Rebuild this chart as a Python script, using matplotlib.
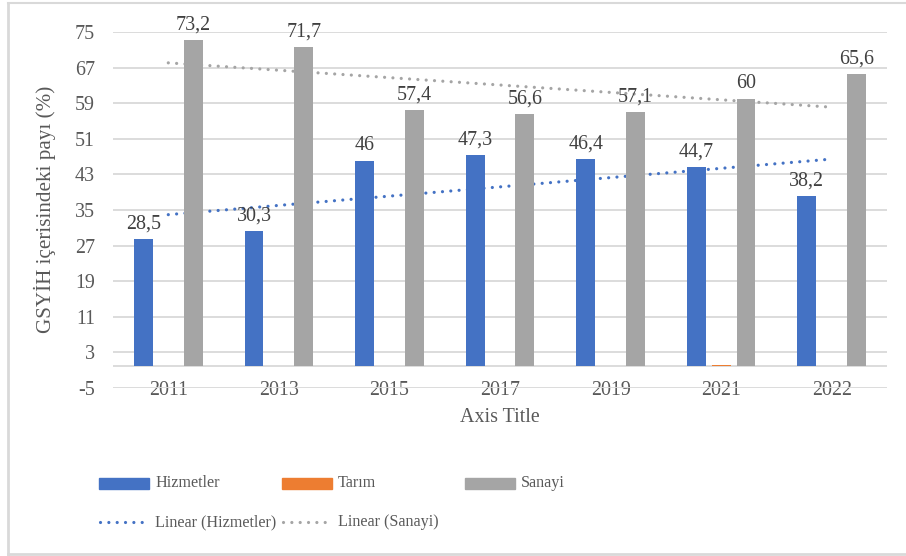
import numpy as np
import matplotlib
matplotlib.use("Agg")
import matplotlib.pyplot as plt
from matplotlib.patches import Rectangle
from matplotlib.lines import Line2D

years = ["2011", "2013", "2015", "2017", "2019", "2021", "2022"]
hizmetler = [28.5, 30.3, 46.0, 47.3, 46.4, 44.7, 38.2]
tarim = [0.0, 0.0, 0.0, 0.0, 0.0, 0.2, 0.0]
sanayi = [73.2, 71.7, 57.4, 56.6, 57.1, 60.0, 65.6]
hizmetler_labels = ["28,5", "30,3", "46", "47,3", "46,4", "44,7", "38,2"]
sanayi_labels = ["73,2", "71,7", "57,4", "56,6", "57,1", "60", "65,6"]
yticks = [-5, 3, 11, 19, 27, 35, 43, 51, 59, 67, 75]

BLUE = "#4472C4"
ORANGE = "#ED7D31"
GRAY = "#A5A5A5"
TXT = "#595959"
FONT = "Liberation Serif"
FS = 14.4
LFS = 11.6

plt.rcParams["font.family"] = [FONT, "DejaVu Serif"]

W, H = 906, 556
fig = plt.figure(figsize=(W / 100, H / 100), dpi=100)
ax = fig.add_axes([113 / W, (H - 388) / H, 774 / W, 356 / H])

x = np.arange(len(years))
bw = 0.17
off = 0.225

# trendlines (behind bars)
for vals, col in [(hizmetler, BLUE), (sanayi, GRAY)]:
    p = np.polyfit(x, vals, 1)
    ax.plot(x, np.polyval(p, x), color=col, lw=2.3, linestyle=(0, (0.01, 2.6)),
            dash_capstyle="round", zorder=2)

ax.bar(x - off, hizmetler, bw, color=BLUE, zorder=3)
ax.bar(x, tarim, bw, color=ORANGE, zorder=3)
ax.bar(x + off, sanayi, bw, color=GRAY, zorder=3)

for xi, v, s in zip(x, hizmetler, hizmetler_labels):
    ax.annotate(s, (xi - off, v), xytext=(0, 4), textcoords="offset points",
                ha="center", va="bottom", fontsize=FS, color="#404040", zorder=5)
for xi, v, s in zip(x, sanayi, sanayi_labels):
    ax.annotate(s, (xi + off, v), xytext=(0, 4), textcoords="offset points",
                ha="center", va="bottom", fontsize=FS, color="#404040", zorder=5)

ax.set_xlim(-0.5, len(years) - 0.5)
ax.set_ylim(-5, 75)
ax.set_yticks(yticks)
ax.set_yticklabels([str(t) for t in yticks])
ax.set_xticks(x)
ax.set_xticklabels(years)
ax.tick_params(axis="both", length=0, labelsize=FS, labelcolor=TXT)
ax.tick_params(axis="y", pad=13)
ax.tick_params(axis="x", pad=-5)
ax.grid(axis="y", color="#D9D9D9", lw=1.3, zorder=0)
ax.axhline(0, color="#D9D9D9", lw=1.3, zorder=1)
for sp in ax.spines.values():
    sp.set_visible(False)

fig.text(500 / W, 1 - 418 / H, "Axis Title", ha="center", va="center",
         fontsize=FS, color=TXT)
fig.text(45 / W, 1 - 209 / H, "GSYİH içerisindeki payı (%)", ha="center",
         va="center", rotation=90, fontsize=15.2, color=TXT)

# legend (manual, Excel style equal-width columns)
def fx(px):
    return px / W

def fy(py):
    return 1 - py / H

leg_items = [
    ("patch", BLUE, "Hizmetler", 99, 483),
    ("patch", ORANGE, "Tarım", 282, 483),
    ("patch", GRAY, "Sanayi", 465, 483),
    ("line", BLUE, "Linear (Hizmetler)", 99, 522),
    ("line", GRAY, "Linear (Sanayi)", 282, 522),
]
for kind, col, lab, px, py in leg_items:
    if kind == "patch":
        fig.add_artist(Rectangle((fx(px), fy(py + 5.5)), 50 / W, 11 / H,
                                 transform=fig.transFigure, color=col))
    else:
        fig.add_artist(Line2D([fx(px + 1), fx(px + 49)], [fy(py), fy(py)],
                              transform=fig.transFigure, color=col, lw=2.3,
                              linestyle=(0, (0.01, 2.6)), dash_capstyle="round"))
    fig.text(fx(px + 56), fy(py), lab, ha="left", va="center", fontsize=LFS,
             color=TXT)

# outer border (left, top, bottom)
fig.add_artist(Line2D([fx(8), fx(8)], [fy(3), fy(554)], transform=fig.transFigure,
                      color="#D9D9D9", lw=2))
fig.add_artist(Line2D([fx(8), fx(906)], [fy(3), fy(3)], transform=fig.transFigure,
                      color="#D9D9D9", lw=1.5))
fig.add_artist(Line2D([fx(8), fx(906)], [fy(554), fy(554)], transform=fig.transFigure,
                      color="#D9D9D9", lw=2))

fig.savefig("out.png", dpi=100, facecolor="white")
